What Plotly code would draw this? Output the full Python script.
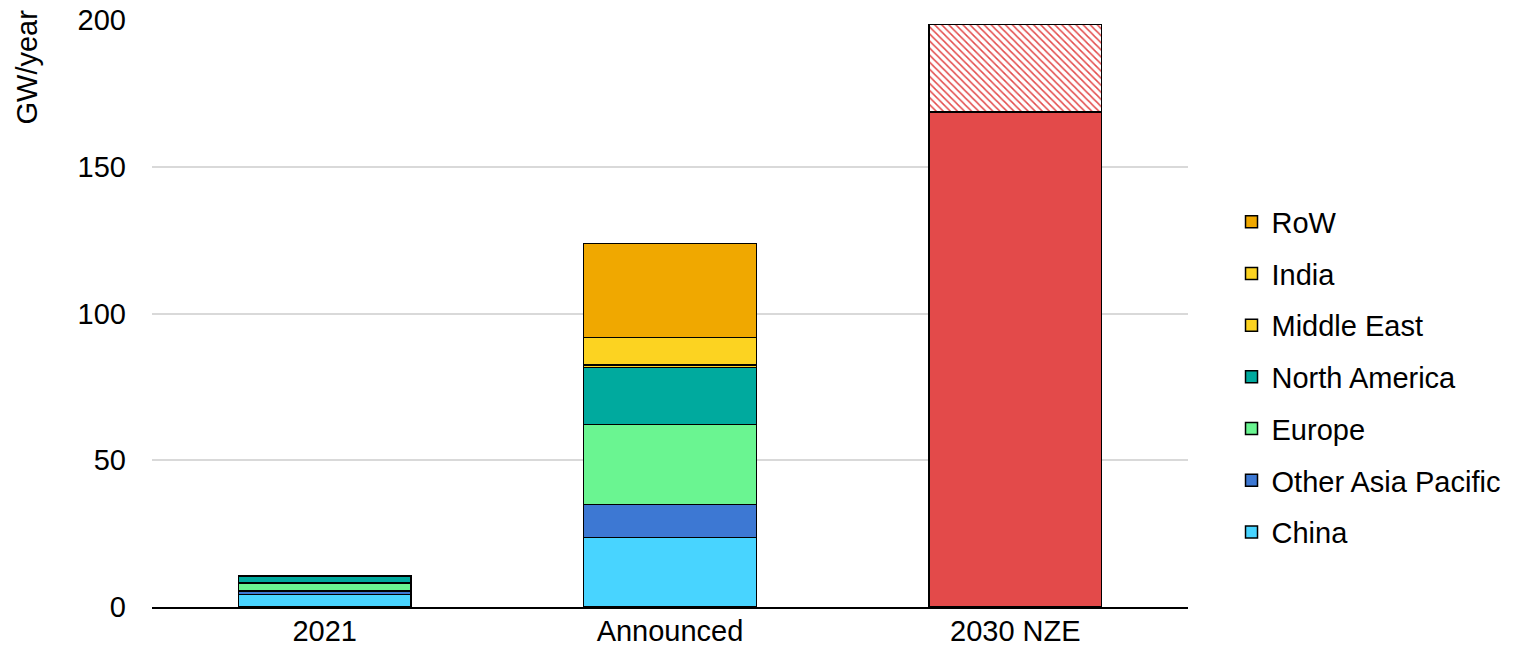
import plotly.graph_objects as go

# Categories on the x axis
categories = ["2021", "Announced", "2030 NZE"]

# Regional capacity additions (GW/year) for 2021 and announced projects
regions = ["China", "Other Asia Pacific", "Europe", "North America", "Middle East", "India", "RoW"]
china = [4.3, 23.7, 0]
other_asia_pacific = [1.2, 11.3, 0]
europe = [2.7, 27.2, 0]
north_america = [2.4, 19.4, 0]
middle_east = [0, 0.9, 0]
india = [0, 9.4, 0]
row = [0, 31.9, 0]

# Net Zero Emissions pathway requirement (solid + hatched upper range)
nze_base = [0, 0, 168.6]
nze_range = [0, 0, 29.8]

region_values = [china, other_asia_pacific, europe, north_america, middle_east, india, row]
region_colors = ["#48D4FF", "#3D78D3", "#6AF591", "#00AA9E", "#FCD321", "#FCD321", "#F0A800"]

FONT = "Liberation Sans, Arial, sans-serif"
FS = 29

fig = go.Figure()

n = len(regions)
for i, (name, vals, color) in enumerate(zip(regions, region_values, region_colors)):
    fig.add_trace(go.Bar(
        x=categories, y=vals, name=name, legendgroup=name,
        legendrank=n - i,  # top of the stack listed first
        marker=dict(color=color, line=dict(color="#000000", width=1.5)),
    ))

fig.add_trace(go.Bar(
    x=categories, y=nze_base, name="NZE", showlegend=False,
    marker=dict(color="#E34A4A", line=dict(color="#000000", width=1.5)),
))
fig.add_trace(go.Bar(
    x=categories, y=nze_range, name="NZE range", showlegend=False,
    marker=dict(
        color="#FFFFFF",
        line=dict(color="#000000", width=1.5),
        pattern=dict(shape="\\", fgcolor="#E34A4A", bgcolor="#FFFFFF",
                     size=5, solidity=0.3, fillmode="replace"),
    ),
))

# Axis title placed at the top of the y axis
fig.add_annotation(
    text="GW/year", textangle=-90,
    xref="paper", yref="paper",
    x=(27 - 152) / 1036, y=(607 - 8) / 587,
    xanchor="center", yanchor="top",
    showarrow=False,
    font=dict(family=FONT, size=FS, color="#000000"),
)

fig.update_layout(
    barmode="stack",
    bargap=0.5,
    width=1513, height=648,
    margin=dict(l=152, r=325, t=20, b=41, autoexpand=False),
    plot_bgcolor="#FFFFFF",
    paper_bgcolor="#FFFFFF",
    font=dict(family=FONT, size=FS, color="#000000"),
    showlegend=True,
    legend=dict(
        x=1.042, xanchor="left", y=0.392, yanchor="middle",
        traceorder="grouped", tracegroupgap=11,
        font=dict(family=FONT, size=FS, color="#000000"),
        itemwidth=30,
        bgcolor="rgba(0,0,0,0)",
    ),
    xaxis=dict(
        showgrid=False, showline=True, linecolor="#000000", linewidth=2,
        ticks="", tickfont=dict(size=FS), automargin=False,
        ticklabelstandoff=-3,
    ),
    yaxis=dict(
        range=[0, 200], tickvals=[0, 50, 100, 150, 200],
        showgrid=True, gridcolor="#D9D9D9", gridwidth=2,
        zeroline=False, showline=False, ticks="",
        tickfont=dict(size=FS), ticklabelstandoff=25, automargin=False,
    ),
)

fig.write_html("out.html")
